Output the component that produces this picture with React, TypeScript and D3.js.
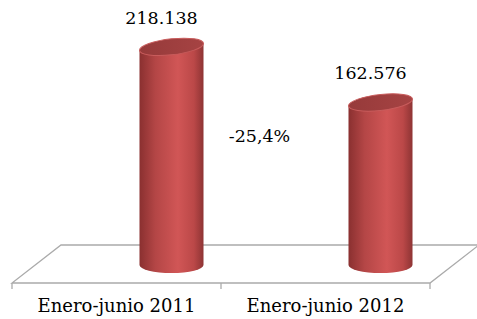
import React from "react";
import * as d3 from "d3";

const categories: string[] = ["Enero-junio 2011", "Enero-junio 2012"];
const values: number[] = [218138, 162576];
const valueLabels: string[] = ["218.138", "162.576"];
const changeLabel: string = "-25,4%";

const W = 477;
const H = 319;
const FONT = "'DejaVu Serif', Georgia, serif";

export default function App() {
  const frontY = 283;
  const depthX = 49;
  const depthY = 38;
  const x = d3.scaleBand<string>().domain(categories).range([12, 430]).paddingInner(0).paddingOuter(0);
  const y = d3.scaleLinear().domain([0, 250000]).range([265, 15]);
  const barW = 64;
  const ry = 8;
  const barShift = 55;
  const skew = -6;
  const tilt = Math.tan((skew * Math.PI) / 180) * (barW / 2);

  const floor = d3.path();
  floor.moveTo(12, frontY);
  floor.lineTo(430, frontY);
  floor.lineTo(430 + depthX, frontY - depthY);
  floor.lineTo(12 + depthX, frontY - depthY);
  floor.closePath();

  const ticks = [12, ...categories.map((c) => (x(c) as number) + x.bandwidth())];

  return (
    <svg width={W} height={H} style={{ position: "absolute", left: 0, top: 0, background: "#fff" }}>
      <defs>
        <linearGradient id="cyl" x1="0" x2="1" y1="0" y2="0">
          <stop offset="0" stopColor="#8a3030" />
          <stop offset="0.25" stopColor="#b44646" />
          <stop offset="0.6" stopColor="#d15656" />
          <stop offset="0.85" stopColor="#bb4848" />
          <stop offset="1" stopColor="#8e3434" />
        </linearGradient>
        <linearGradient id="capg" x1="0" x2="1" y1="0" y2="0">
          <stop offset="0" stopColor="#963a3a" />
          <stop offset="1" stopColor="#a64343" />
        </linearGradient>
      </defs>
      <path d={floor.toString()} fill="none" stroke="#ababab" strokeWidth={1.3} />
      {ticks.map((t, i) => (
        <line key={i} x1={t} x2={t} y1={frontY} y2={frontY + 6} stroke="#ababab" strokeWidth={1.3} />
      ))}
      {categories.map((c, i) => {
        const cx = (x(c) as number) + x.bandwidth() / 2 + barShift;
        const top = y(values[i]);
        const base = y(0);
        const l = cx - barW / 2;
        const r = cx + barW / 2;
        const body = `M${l},${top - tilt} L${l},${base} A${barW / 2},${ry} 0 0 0 ${r},${base} L${r},${top + tilt} Z`;
        return (
          <g key={c}>
            <path d={body} fill="url(#cyl)" />
            <g transform={`translate(${cx},${top}) skewY(${skew}) translate(${-cx},${-top})`}>
              <ellipse cx={cx} cy={top} rx={barW / 2} ry={ry} fill="url(#capg)" stroke="#c85c5c" strokeWidth={1} />
            </g>
            <text x={cx - 10} y={top - 23} textAnchor="middle" fontFamily={FONT} fontSize={17.5} fill="#000">
              {valueLabels[i]}
            </text>
          </g>
        );
      })}
      <text x={259.5} y={142} textAnchor="middle" fontFamily={FONT} fontSize={17.5} fill="#000">
        {changeLabel}
      </text>
      {categories.map((c) => (
        <text key={c} x={(x(c) as number) + x.bandwidth() / 2} y={312} textAnchor="middle" fontFamily={FONT} fontSize={18} fill="#000">
          {c}
        </text>
      ))}
    </svg>
  );
}
